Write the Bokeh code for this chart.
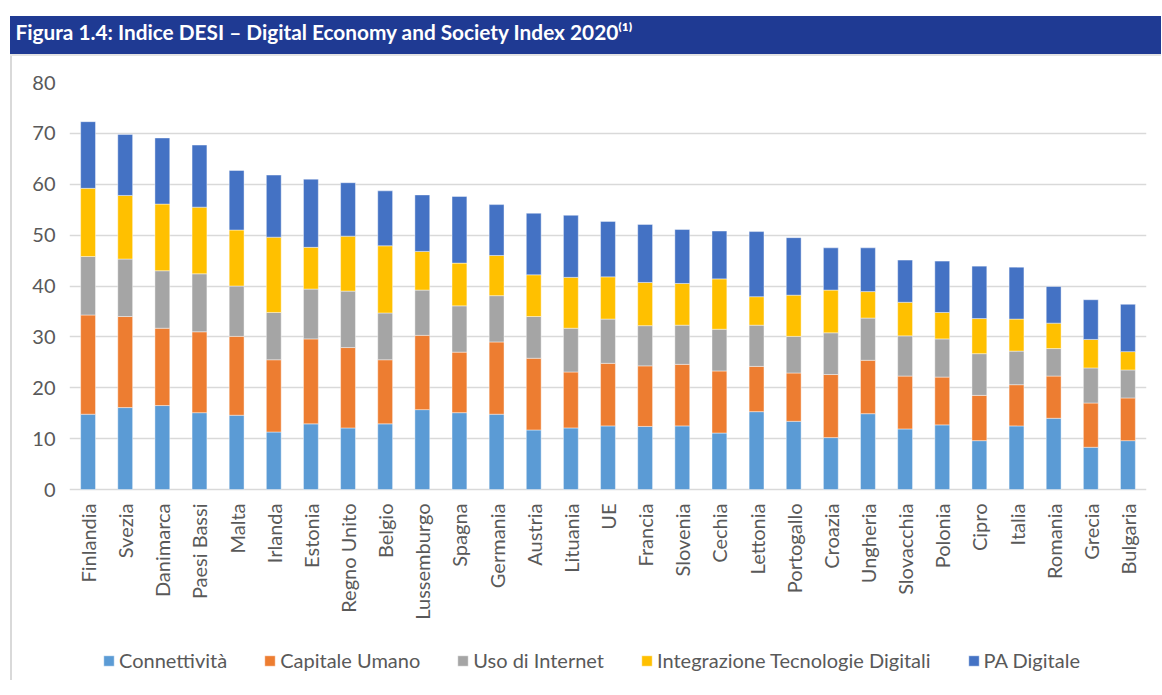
import math
from bokeh.plotting import figure
from bokeh.models import ColumnDataSource, Legend, LegendItem, FixedTicker
from bokeh.embed import file_html
from bokeh.resources import INLINE

# ---------------- data ----------------
countries = ["Finlandia", "Svezia", "Danimarca", "Paesi Bassi", "Malta", "Irlanda",
             "Estonia", "Regno Unito", "Belgio", "Lussemburgo", "Spagna", "Germania",
             "Austria", "Lituania", "UE", "Francia", "Slovenia", "Cechia", "Lettonia",
             "Portogallo", "Croazia", "Ungheria", "Slovacchia", "Polonia", "Cipro",
             "Italia", "Romania", "Grecia", "Bulgaria"]

connettivita = [14.8, 16.1, 16.5, 15.1, 14.6, 11.3, 12.9, 12.1, 12.9, 15.7, 15.1, 14.8,
                11.7, 12.1, 12.5, 12.4, 12.5, 11.1, 15.3, 13.4, 10.2, 14.9, 11.9, 12.7,
                9.6, 12.5, 14.0, 8.3, 9.6]
capitale_umano = [19.5, 17.9, 15.2, 15.9, 15.5, 14.2, 16.7, 15.8, 12.6, 14.6, 11.9, 14.2,
                  14.1, 11.0, 12.3, 11.9, 12.1, 12.2, 8.9, 9.5, 12.4, 10.5, 10.4, 9.4,
                  8.9, 8.1, 8.3, 8.7, 8.4]
uso_internet = [11.5, 11.3, 11.3, 11.4, 9.9, 9.3, 9.8, 11.1, 9.2, 8.9, 9.1, 9.1,
                8.2, 8.6, 8.7, 7.9, 7.7, 8.2, 8.1, 7.2, 8.2, 8.3, 7.9, 7.5,
                8.2, 6.6, 5.4, 6.9, 5.5]
integrazione = [13.4, 12.5, 13.1, 13.1, 11.0, 14.8, 8.2, 10.8, 13.2, 7.6, 8.4, 7.9,
                8.2, 10.0, 8.3, 8.5, 8.2, 9.9, 5.6, 8.1, 8.4, 5.2, 6.6, 5.2,
                6.9, 6.3, 5.0, 5.6, 3.6]
pa_digitale = [13.1, 12.0, 13.0, 12.2, 11.7, 12.2, 13.4, 10.5, 10.8, 11.1, 13.1, 10.0,
               12.1, 12.2, 10.9, 11.4, 10.6, 9.4, 12.8, 11.3, 8.3, 8.6, 8.3, 10.1,
               10.3, 10.2, 7.2, 7.8, 9.3]

series_names = ["Connettività", "Capitale Umano", "Uso di Internet",
                "Integrazione Tecnologie Digitali", "PA Digitale"]
y_ticks = [0, 10, 20, 30, 40, 50, 60, 70, 80]

title_text = "Figura 1.4: Indice DESI \u2013 Digital Economy and Society Index 2020\u207D\u00B9\u207E"

# ---------------- styles / layout constants ----------------
colors = ["#5B9BD5", "#ED7D31", "#A5A5A5", "#FFC000", "#4472C4"]
band_color = "#1F3A93"
text_gray = "#595959"
grid_gray = "#D9D9D9"
FONT = "Lato"

PLOT_PX = 407          # height of the 0..80 value area
LEGEND_AREA_PX = 191   # area below the value 0 that holds tick labels and legend
y_top = 80
y_bottom = -y_top * LEGEND_AREA_PX / PLOT_PX

stackers = ["conn", "cap", "uso", "integ", "pa"]
source = ColumnDataSource(dict(country=countries, conn=connettivita, cap=capitale_umano,
                               uso=uso_internet, integ=integrazione, pa=pa_digitale))

p = figure(frame_width=1077, frame_height=PLOT_PX + LEGEND_AREA_PX,
           x_range=countries, y_range=(y_bottom, y_top),
           toolbar_location=None, output_backend="svg",
           min_border_left=69, min_border_right=15, min_border_top=82,
           min_border_bottom=0, outline_line_color=None,
           background_fill_color="white", border_fill_color="white",
           border_fill_alpha=0)
p.x_range.range_padding = 0

# page decoration: blue title band, its shadow and the light outer frame
p.styles = {
    "background": (
        f"linear-gradient({band_color},{band_color}) 10px 16px / calc(100% - 10px) 38px no-repeat, "
        "linear-gradient(#E3E3E3,#E3E3E3) 10px 54px / calc(100% - 10px) 2px no-repeat, "
        "linear-gradient(#D9D9D9,#D9D9D9) 10px 54px / 2px 640px no-repeat, "
        "linear-gradient(#D9D9D9,#D9D9D9) 10px 692px / calc(100% - 10px) 2px no-repeat, "
        "white"
    )
}

# title (white text on the band); the second, blank line lifts it onto the band
p.title.text = title_text + "\n\u00a0"
p.title.text_color = "white"
p.title.text_font = FONT
p.title.text_font_style = "bold"
p.title.text_font_size = "20.8px"
p.title.align = "left"
p.title.vertical_align = "bottom"
p.title.offset = -54
p.title.standoff = 28

renderers = p.vbar_stack(stackers, x="country", width=0.4, source=source,
                         color=colors, line_color="white", line_width=0.6,
                         line_alpha=0.7)

p.xgrid.grid_line_color = None
p.ygrid.grid_line_color = grid_gray
p.ygrid.grid_line_width = 1.5
p.yaxis.ticker = FixedTicker(ticks=y_ticks)

for ax in (p.xaxis, p.yaxis):
    ax.axis_line_color = None
    ax.major_tick_line_color = None
    ax.minor_tick_line_color = None
    ax.major_tick_out = 0
    ax.major_tick_in = 0
    ax.major_label_text_font = FONT
    ax.major_label_text_font_size = "20px"
    ax.major_label_text_color = text_gray

p.yaxis.major_label_standoff = 14
p.xaxis.fixed_location = 0
p.xaxis.major_label_orientation = math.pi / 2
p.xaxis.major_label_standoff = 14

legend = Legend(items=[LegendItem(label=n, renderers=[r]) for n, r in zip(series_names, renderers)],
                orientation="horizontal", location=(33, 8),
                label_text_font=FONT, label_text_font_size="20px",
                label_text_color=text_gray, glyph_width=13, glyph_height=13,
                label_standoff=4, spacing=36, border_line_color=None,
                background_fill_alpha=0, padding=0, margin=0)
p.add_layout(legend)

open("out.html", "w").write(file_html(p, INLINE))
